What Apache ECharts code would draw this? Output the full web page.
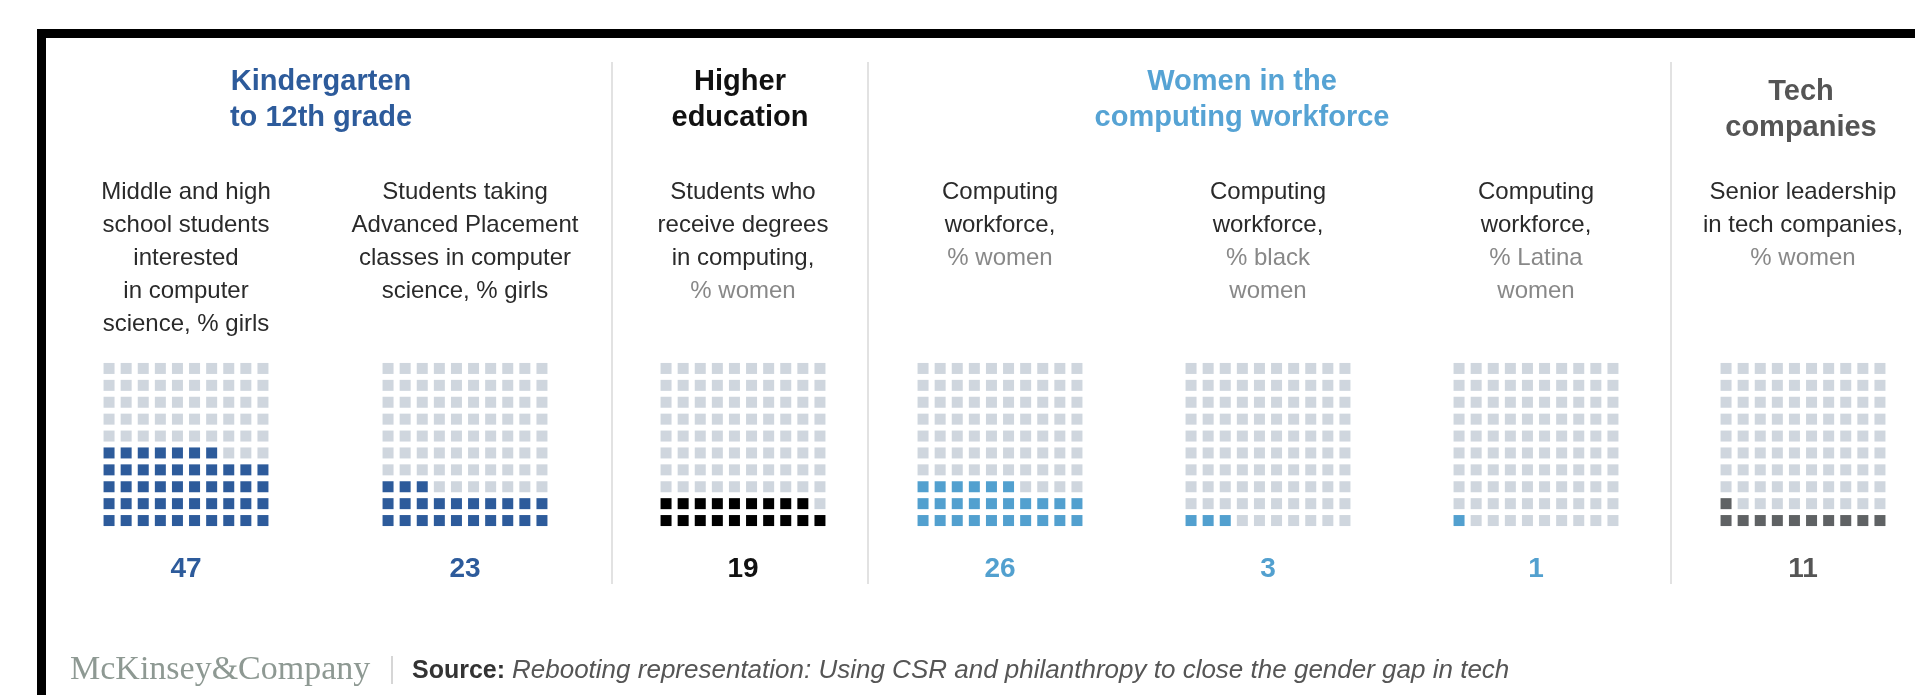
<!DOCTYPE html>
<html><head><meta charset="utf-8">
<script src="https://cdn.jsdelivr.net/npm/echarts@6/dist/echarts.min.js"></script>
<style>html,body{margin:0;padding:0;background:#fff}#c{width:1915px;height:695px}</style>
</head><body><div id="c"></div>
<script>
// ---- data ----
const values = [47, 23, 19, 26, 3, 1, 11];
const numberLabels = ['47', '23', '19', '26', '3', '1', '11'];
const groupTitles = [
  ['Kindergarten', 'to 12th grade'],
  ['Higher', 'education'],
  ['Women in the', 'computing workforce'],
  ['Tech', 'companies']
];
const descLines = [
  ['Middle and high', 'school students', 'interested', 'in computer', 'science, % girls'],
  ['Students taking', 'Advanced Placement', 'classes in computer', 'science, % girls'],
  ['Students who', 'receive degrees', 'in computing,', '% women'],
  ['Computing', 'workforce,', '% women'],
  ['Computing', 'workforce,', '% black', 'women'],
  ['Computing', 'workforce,', '% Latina', 'women'],
  ['Senior leadership', 'in tech companies,', '% women']
];
const descMutedFrom = [99, 99, 3, 2, 2, 2, 2];
const brandText = 'McKinsey&Company';
const sourceLabel = 'Source:';
const sourceText = 'Rebooting representation: Using CSR and philanthropy to close the gender gap in tech';

// ---- layout / style ----
const panelCx = [186, 465, 743, 1000, 1268, 1536, 1803];
const panelColor = ['#2d5b9b', '#2d5b9b', '#000000', '#52a0cf', '#52a0cf', '#52a0cf', '#5f6264'];
const numColor = ['#2d5b9b', '#2d5b9b', '#111111', '#52a0cf', '#52a0cf', '#52a0cf', '#555555'];
const emptyColor = '#cfd6de';
const groupCx = [321, 740, 1242, 1801];
const groupY = [82, 82, 82, 92];
const groupColor = ['#2d5b9b', '#111111', '#56a3d4', '#555555'];
const separatorsX = [612, 868, 1671];
const SANS = '"Liberation Sans", Arial, Helvetica, sans-serif';

const grids = [], xAxes = [], yAxes = [], series = [];
values.forEach((v, p) => {
  grids.push({ left: panelCx[p] - 85.5, top: 360, width: 171, height: 169 });
  xAxes.push({ gridIndex: p, type: 'value', min: -0.5, max: 9.5, show: false });
  yAxes.push({ gridIndex: p, type: 'value', min: -0.5, max: 9.5, show: false });
  const data = [];
  for (let i = 0; i < 100; i++) {
    const filled = i < v;
    data.push({ value: [i % 10, Math.floor(i / 10)],
      itemStyle: { color: filled ? panelColor[p] : emptyColor, opacity: 1 } });
  }
  series.push({ type: 'scatter', xAxisIndex: p, yAxisIndex: p, symbol: 'rect', symbolSize: [11, 11],
    itemStyle: { opacity: 1 }, data, silent: true, animation: false });
});

const graphic = [];
// frame
graphic.push({ type: 'rect', shape: { x: 41.5, y: 33.5, width: 2000, height: 1000 },
  style: { fill: null, stroke: '#000', lineWidth: 9 }, silent: true });
separatorsX.forEach(x => graphic.push({ type: 'line', shape: { x1: x, y1: 62, x2: x, y2: 584 },
  style: { stroke: '#e2e2e2', lineWidth: 2 }, silent: true }));
function txt(text, x, y, font, fill, align) {
  return { type: 'text', x: x, y: y, silent: true,
    style: { text, font, fill, align: align || 'center', verticalAlign: 'middle',
      textAlign: align || 'center', textVerticalAlign: 'middle' } };
}
groupTitles.forEach((lines, g) => lines.forEach((l, k) =>
  graphic.push(txt(l, groupCx[g], groupY[g] + k * 36, 'bold 29px ' + SANS, groupColor[g]))));
descLines.forEach((lines, p) => lines.forEach((l, k) =>
  graphic.push(txt(l, panelCx[p], 192 + k * 33, '24px ' + SANS, k >= descMutedFrom[p] ? '#888888' : '#2a2a2a'))));
numberLabels.forEach((n, p) => graphic.push(txt(n, panelCx[p], 569, 'bold 28px ' + SANS, numColor[p])));
// footer
graphic.push(txt(brandText, 70, 670, '34px "Liberation Serif", "Times New Roman", serif', '#8e9993', 'left'));
graphic.push({ type: 'line', shape: { x1: 392, y1: 656, x2: 392, y2: 684 }, style: { stroke: '#c8c8c8', lineWidth: 1.5 }, silent: true });
graphic.push(txt(sourceLabel, 412, 671, 'bold 25px ' + SANS, '#333333', 'left'));
graphic.push(txt(sourceText, 512, 671, 'italic 26px ' + SANS, '#555555', 'left'));

const chart = echarts.init(document.getElementById('c'), null, { renderer: 'canvas' });
chart.setOption({ backgroundColor: '#ffffff', animation: false, grid: grids, xAxis: xAxes, yAxis: yAxes, series, graphic });
</script></body></html>
